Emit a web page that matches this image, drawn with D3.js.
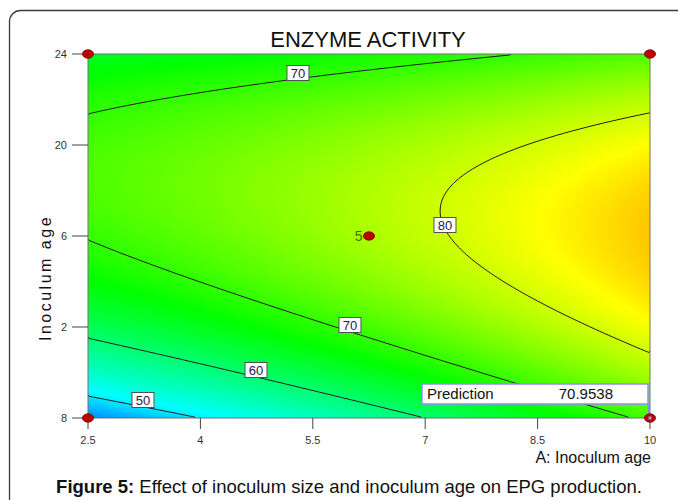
<!DOCTYPE html>
<html><head><meta charset="utf-8">
<script src="https://cdn.jsdelivr.net/npm/d3@7"></script>
<style>html,body{margin:0;padding:0;background:#fff;}</style>
</head><body>
<svg id="chart" width="678" height="500"></svg>
<script>
// ---------- data ----------
const title = "ENZYME ACTIVITY";
const xTitle = "A: Inoculum age";
const yTitle = "Inoculum age";
const captionBold = "Figure 5:";
const captionText = " Effect of inoculum size and inoculum age on EPG production.";
const xTicks = [2.5, 4, 5.5, 7, 8.5, 10];
const xTickLabels = ["2.5", "4", "5.5", "7", "8.5", "10"];
const yTicks = [8, 12, 16, 20, 24];
const yTickLabels = ["8", "2", "6", "20", "24"];
const xRange = [2.5, 10];
const yRange = [8, 24];
// fitted response surface in coded units a, b (each -1..1): sum coef * a^powA * b^powB
const termPowA = [0, 1, 2, 0, 1, 2, 0, 1, 2];
const termPowB = [0, 0, 0, 1, 1, 1, 2, 2, 2];
const modelCoef = [77.6, 8.175, 0.795, 5.2675, -4.6175, -0.13, -14.9075, -0.0325, -0.16];
const contourLevels = [50, 60, 70, 80];
// contour label anchors (A, B) in data units
const labelLevel = [70, 80, 70, 60, 50];
const labelA = [5.302, 7.264, 5.996, 4.742, 3.234];
const labelB = [23.165, 16.484, 12.088, 10.11, 8.791];
// design points
const designA = [2.5, 10, 2.5, 10, 6.25];
const designB = [24, 24, 8, 8, 16];
const designCount = ["", "", "", "", "5"];
// prediction flag
const predA = 10, predB = 8;
const predLabel = "Prediction";
const predValue = "70.9538";
// colour ramp stops (response values) and colours
const rampValues = [39, 51, 67, 83, 99];
const rampColors = ["#0000ff", "#00ffff", "#00ff00", "#ffff00", "#ff0000"];

// ---------- helpers ----------
const svg = d3.select("#chart");
const font = "'Liberation Sans', Arial, sans-serif";
const x = d3.scaleLinear().domain(xRange).range([88, 650]);
const y = d3.scaleLinear().domain(yRange).range([418, 54]);
const color = d3.scaleLinear().domain(rampValues).range(rampColors).interpolate(d3.interpolateRgb).clamp(true);
function model(A, B) {
  const a = (A - (xRange[0] + xRange[1]) / 2) / ((xRange[1] - xRange[0]) / 2);
  const b = (B - (yRange[0] + yRange[1]) / 2) / ((yRange[1] - yRange[0]) / 2);
  let v = 0;
  for (let t = 0; t < modelCoef.length; t++) v += modelCoef[t] * Math.pow(a, termPowA[t]) * Math.pow(b, termPowB[t]);
  return v;
}

// frame
svg.append("rect").attr("x", 9.5).attr("y", 10.5).attr("width", 720).attr("height", 540)
  .attr("rx", 11).attr("fill", "#fff").attr("stroke", "#3a3a3a").attr("stroke-width", 1.3);

// ---------- heatmap ----------
const x0 = x(xRange[0]), x1 = x(xRange[1]), y0 = y(yRange[1]), y1 = y(yRange[0]);
const W = Math.round(x1 - x0), H = Math.round(y1 - y0);
const cv = document.createElement("canvas");
cv.width = W; cv.height = H;
const ctx = cv.getContext("2d");
const img = ctx.createImageData(W, H);
for (let j = 0; j < H; j++) {
  const B = y.invert(y0 + j + 0.5);
  for (let i = 0; i < W; i++) {
    const A = x.invert(x0 + i + 0.5);
    const c = d3.rgb(color(model(A, B)));
    const k = (j * W + i) * 4;
    img.data[k] = c.r; img.data[k + 1] = c.g; img.data[k + 2] = c.b; img.data[k + 3] = 255;
  }
}
ctx.putImageData(img, 0, 0);
svg.append("image").attr("x", x0).attr("y", y0).attr("width", W).attr("height", H)
  .attr("preserveAspectRatio", "none").attr("href", cv.toDataURL());

// ---------- contours ----------
const nx = 281, ny = 182;
const grid = new Array(nx * ny);
const cw = (x1 - x0) / nx, ch = (y1 - y0) / ny;
for (let j = 0; j < ny; j++) for (let i = 0; i < nx; i++) {
  grid[j * nx + i] = model(x.invert(x0 + (i + 0.5) * cw), y.invert(y0 + (j + 0.5) * ch));
}
const cons = d3.contours().size([nx, ny]).thresholds(contourLevels)(grid);
const eps = 1e-6;
function onSameEdge(p, q) {
  return (p[0] <= eps && q[0] <= eps) || (p[0] >= nx - eps && q[0] >= nx - eps) ||
         (p[1] <= eps && q[1] <= eps) || (p[1] >= ny - eps && q[1] >= ny - eps);
}
const gC = svg.append("g");
cons.forEach(mp => {
  let d = "";
  mp.coordinates.forEach(poly => poly.forEach(ring => {
    let open = false;
    for (let k = 0; k < ring.length - 1; k++) {
      const p = ring[k], q = ring[k + 1];
      if (onSameEdge(p, q)) { open = false; continue; }
      if (!open) { d += "M" + (x0 + p[0] * cw).toFixed(2) + "," + (y0 + p[1] * ch).toFixed(2); open = true; }
      d += "L" + (x0 + q[0] * cw).toFixed(2) + "," + (y0 + q[1] * ch).toFixed(2);
    }
  }));
  gC.append("path").attr("d", d).attr("fill", "none").attr("stroke", "#1e1e1e").attr("stroke-width", 1);
});

// plot border
svg.append("rect").attr("x", x0).attr("y", y0).attr("width", x1 - x0).attr("height", y1 - y0)
  .attr("fill", "none").attr("stroke", "#707070").attr("stroke-width", 1);

// contour labels
labelLevel.forEach((lv, i) => {
  const cx = x(labelA[i]), cy = y(labelB[i]);
  svg.append("rect").attr("x", cx - 11).attr("y", cy - 7.5).attr("width", 22).attr("height", 15)
    .attr("fill", "#fff").attr("stroke", "#505050").attr("stroke-width", 1);
  svg.append("text").attr("x", cx).attr("y", cy + 4.8).attr("text-anchor", "middle")
    .attr("font-family", font).attr("font-size", 13).attr("fill", "#1c1c4c").text(String(lv));
});

// ---------- axes ----------
const gx = svg.append("g");
xTicks.forEach((t, i) => {
  gx.append("line").attr("x1", x(t)).attr("x2", x(t)).attr("y1", y1).attr("y2", y1 + 11)
    .attr("stroke", "#444").attr("stroke-width", 1);
  gx.append("text").attr("x", x(t)).attr("y", y1 + 26).attr("text-anchor", "middle")
    .attr("font-family", font).attr("font-size", 11).attr("fill", "#333").text(xTickLabels[i]);
});
const gy = svg.append("g");
yTicks.forEach((t, i) => {
  gy.append("line").attr("x1", x0 - 16).attr("x2", x0).attr("y1", y(t)).attr("y2", y(t))
    .attr("stroke", "#444").attr("stroke-width", 1);
  gy.append("text").attr("x", x0 - 21).attr("y", y(t) + 4).attr("text-anchor", "end")
    .attr("font-family", font).attr("font-size", 11).attr("fill", "#333").text(yTickLabels[i]);
});

// prediction connector
svg.append("line").attr("x1", 648).attr("x2", x(predA) - 1).attr("y1", 404).attr("y2", y(predB))
  .attr("stroke", "#8c8cff").attr("stroke-width", 1.5);

// design points
designA.forEach((a, i) => {
  svg.append("ellipse").attr("cx", x(a)).attr("cy", y(designB[i])).attr("rx", 5.5).attr("ry", 4.2)
    .attr("fill", "#c00000").attr("stroke", "#6a0000").attr("stroke-width", 0.8);
  if (designCount[i]) {
    svg.append("text").attr("x", x(a) - 6.5).attr("y", y(designB[i]) + 5).attr("text-anchor", "end")
      .attr("font-family", font).attr("font-size", 14).attr("fill", "#4d6b00").text(designCount[i]);
  }
});
svg.append("rect").attr("x", x(predA) - 1.5).attr("y", y(predB) - 1.5).attr("width", 3).attr("height", 3)
  .attr("fill", "#9a9aff");

svg.append("rect").attr("x", 422).attr("y", 384).attr("width", 226).attr("height", 20)
  .attr("fill", "#fff").attr("stroke", "#8c8cff").attr("stroke-width", 1.5);
svg.append("text").attr("x", 427).attr("y", 399).attr("font-family", font).attr("font-size", 15)
  .attr("fill", "#111").text(predLabel);
svg.append("text").attr("x", 613).attr("y", 399).attr("text-anchor", "end").attr("font-family", font)
  .attr("font-size", 15).attr("fill", "#111").text(predValue);

// titles
svg.append("text").attr("x", 368).attr("y", 47).attr("text-anchor", "middle").attr("font-family", font)
  .attr("font-size", 22).attr("fill", "#111").text(title);
svg.append("text").attr("x", 651).attr("y", 463).attr("text-anchor", "end").attr("font-family", font)
  .attr("font-size", 16).attr("fill", "#111").text(xTitle);
svg.append("text").attr("transform", "translate(51,278) rotate(-90)").attr("text-anchor", "middle")
  .attr("font-family", font).attr("font-size", 16).attr("letter-spacing", 2.5).attr("fill", "#111").text(yTitle);
const cap = svg.append("text").attr("x", 349).attr("y", 493).attr("text-anchor", "middle")
  .attr("font-family", font).attr("font-size", 18.5).attr("fill", "#111");
cap.append("tspan").attr("font-weight", "bold").text(captionBold);
cap.append("tspan").text(captionText);
</script>
</body></html>
